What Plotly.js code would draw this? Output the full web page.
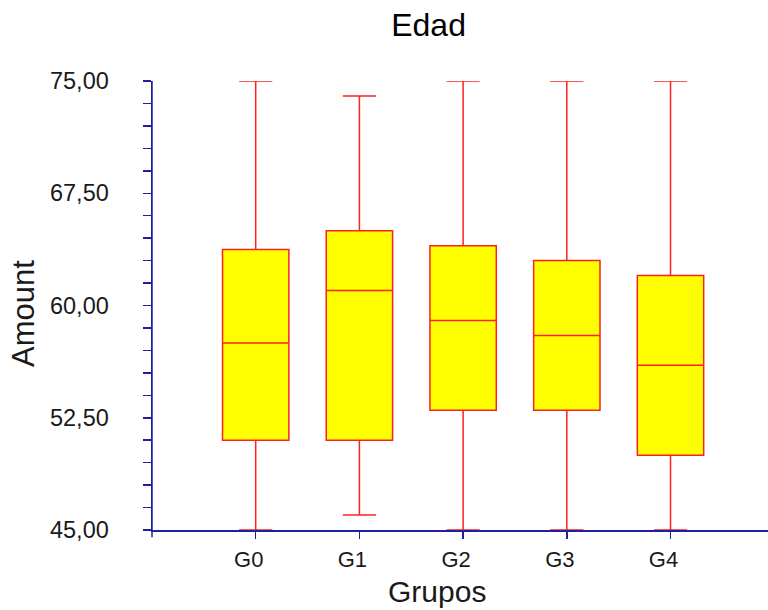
<!DOCTYPE html>
<html>
<head>
<meta charset="utf-8">
<script src="https://cdn.plot.ly/plotly-3.0.1.min.js"></script>
<style>html,body{margin:0;padding:0;background:#fff;}#chart{width:768px;height:610px;}</style>
</head>
<body>
<div id="chart"></div>
<script>
// Data
const groups = ["G0", "G1", "G2", "G3", "G4"];
const lowerWhisker = [45, 46, 45, 45, 45];
const q1Values = [51, 51, 53, 53, 50];
const medianValues = [57.5, 61, 59, 58, 56];
const q3Values = [63.75, 65, 64, 63, 62];
const upperWhisker = [75, 74, 75, 75, 75];
const yTickValues = [45, 52.5, 60, 67.5, 75];

const axisColor = "#1f1f9f";
const textColor = "#1a1a1a";
const font = "Liberation Sans, Arial, sans-serif";

const trace = {
  type: "box",
  x: groups,
  q1: q1Values,
  median: medianValues,
  q3: q3Values,
  lowerfence: lowerWhisker,
  upperfence: upperWhisker,
  width: 0.64,
  whiskerwidth: 0.5,
  fillcolor: "#ffff00",
  line: {color: "#ff2020", width: 1.5},
  boxpoints: false,
  hoverinfo: "skip",
  showlegend: false
};

const layout = {
  width: 768,
  height: 610,
  margin: {l: 152, r: 0, t: 81, b: 80, pad: 0},
  paper_bgcolor: "#ffffff",
  plot_bgcolor: "#ffffff",
  separators: ",.",
  font: {family: font, color: textColor},
  title: {
    text: "Edad",
    font: {family: font, size: 32, color: "#000000"},
    x: 0.449, xref: "paper", xanchor: "center",
    y: 0.959, yref: "container", yanchor: "middle"
  },
  xaxis: {
    type: "category",
    range: [-1, 4.94],
    showgrid: false,
    zeroline: false,
    showline: true,
    linecolor: axisColor,
    linewidth: 1.5,
    ticks: "outside",
    ticklen: 7,
    tickcolor: axisColor,
    tickwidth: 1.5,
    tickfont: {family: font, size: 22, color: textColor},
    ticklabelshift: -7,
    ticklabelstandoff: 2,
    layer: "below traces",
    fixedrange: true
  },
  yaxis: {
    range: [45, 75],
    tickvals: yTickValues,
    tickformat: ".2f",
    showgrid: false,
    zeroline: false,
    showline: true,
    linecolor: axisColor,
    linewidth: 1.5,
    ticks: "outside",
    ticklen: 8,
    tickcolor: axisColor,
    tickwidth: 1.5,
    tickfont: {family: font, size: 23.5, color: textColor},
    ticklabelstandoff: 29,
    minor: {dtick: 1.5, ticks: "outside", ticklen: 8, tickcolor: axisColor, tickwidth: 1.5, showgrid: false},
    layer: "above traces",
    fixedrange: true
  },
  shapes: [
    {type: "line", xref: "paper", yref: "paper", x0: 0, x1: 0, y0: -0.016, y1: 1,
     line: {color: axisColor, width: 1.5}, layer: "above"}
  ],
  annotations: [
    {text: "Grupos", xref: "paper", yref: "paper", x: 0.4627, y: -0.1375,
     xanchor: "center", yanchor: "middle", showarrow: false,
     font: {family: font, size: 30, color: textColor}},
    {text: "Amount", xref: "paper", yref: "paper", x: -0.2094, y: 0.481,
     xanchor: "center", yanchor: "middle", showarrow: false, textangle: -90,
     font: {family: font, size: 31, color: textColor}}
  ]
};

Plotly.newPlot("chart", [trace], layout, {displayModeBar: false, staticPlot: true});
</script>
</body>
</html>
